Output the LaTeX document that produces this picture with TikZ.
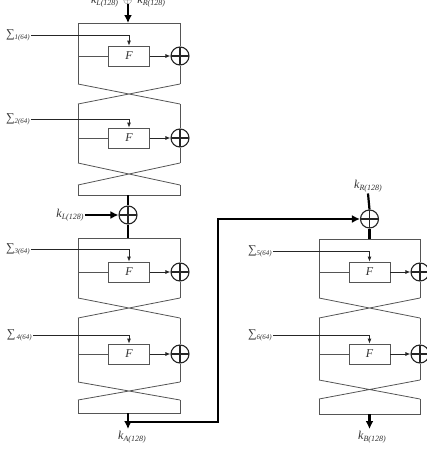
\documentclass[tikz,border=0pt]{standalone}
\usepackage{fontspec}
\setmainfont{Liberation Serif}
\usetikzlibrary{arrows.meta}
\definecolor{lc}{RGB}{85,85,85}
\definecolor{tc}{RGB}{50,50,50}
\newcommand{\sig}[1]{{\fontsize{12}{12}\selectfont ∑}\raisebox{-2pt}{\fontsize{7}{7}\selectfont\itshape #1}}
\newcommand{\kl}[1]{{\fontsize{12}{12}\selectfont\itshape k}\raisebox{-2.5pt}{\fontsize{8}{8}\selectfont\itshape #1}}
% round: name, xL, xR, ytop, yF, yend, ysig, label, label east x
\newcommand{\rnd}[9]{%
  \node[fbox] (#1F) at ({(#2+#3)/2}, #5) {F};
  \node[xor] (#1X) at (#3,#5) {};
  \node[siglab, anchor=east] (#1S) at (#9,#7) {#8};
  \coordinate (#1a) at (#2,#4);
  \coordinate (#1b) at (#2,#6);
  \coordinate (#1c) at (#3,#4);
  \coordinate (#1d) at (#3,#6);
  \coordinate (#1m) at (#2,#5);
  \draw[ln] (#1a) -- (#1b);
  \draw[ln] (#1c) -- (#1X.north);
  \draw[ln] (#1X.south) -- (#1d);
  \draw[ln] (#1m) -- (#1F.west);
  \draw[tarrow] (#1F.east) -- (#1X.west);
  \draw[tarrow] (#1S.east) -| (#1F.north);
}
\begin{document}
\begin{tikzpicture}[x=1pt,y=-1pt,
  ln/.style={draw=lc, line width=0.8pt},
  tarrow/.style={draw=black!85, line width=0.8pt, -{Latex[length=5pt,width=4pt]}},
  boldline/.style={draw=black, line width=2.2pt},
  boldarrow/.style={boldline, -{Latex[length=8pt,width=8pt]}},
  fbox/.style={draw=lc, line width=0.8pt, minimum width=41pt, minimum height=20pt, inner sep=0pt, text=tc, font=\itshape\fontsize{12}{12}\selectfont},
  xor/.style={circle, draw=black!85, line width=1.1pt, minimum size=18pt, inner sep=0pt, fill=white,
    path picture={\draw[black!85, line width=1.1pt] (path picture bounding box.north) -- (path picture bounding box.south)
      (path picture bounding box.west) -- (path picture bounding box.east);}},
  siglab/.style={text=tc, inner sep=1pt},
  klab/.style={text=tc, inner sep=1pt}]
\useasboundingbox (0,0) rectangle (427,459);

% ---------- left block ----------
\node[klab, anchor=base] (top) at (128,3) {\kl{L(128)}\ \ {\fontsize{12}{12}\selectfont$\oplus$}\ \ \kl{R(128)}};
\coordinate (t1) at (128,23);
\draw[boldarrow] (128,4) -- (t1);

\rnd{r1}{78}{180}{23}{56}{84}{35}{\sig{1(64)}}{31}
\draw[ln] (78,23) -- (180,23);
\rnd{r2}{78}{180}{104}{138}{163}{119}{\sig{2(64)}}{31}
\draw[ln] (r1b) -- (r2c) (r1d) -- (r2a);
\coordinate (b2l) at (78,185);
\coordinate (b2r) at (180,185);
\draw[ln] (r2b) -- (b2r) (r2d) -- (b2l);
\draw[ln] (b2l) -- (78,195) -- (180,195) -- (b2r);

\node[xor] (kLX) at (128,215) {};
\node[klab] (kL) at (70,215) {\kl{L(128)}};
\draw[boldline] (128,195) -- (kLX.north);
\draw[boldarrow] (kL.east) -- (kLX.west);

\rnd{r3}{78}{180}{238}{272}{298}{249}{\sig{3(64)}}{31}
\draw[ln] (78,238) -- (180,238);
\draw[boldline] (kLX.south) -- (128,238);
\rnd{r4}{78}{180}{318}{354}{382}{335}{\sig{\,4(64)}}{33}
\draw[ln] (r3b) -- (r4c) (r3d) -- (r4a);
\coordinate (b4l) at (78,400);
\coordinate (b4r) at (180,400);
\draw[ln] (r4b) -- (b4r) (r4d) -- (b4l);
\draw[ln] (b4l) -- (78,413) -- (180,413) -- (b4r);

\node[klab] (kA) at (132,437) {\kl{A(128)}};
\draw[boldarrow] (128,413) -- (128,429);

% ---------- right block ----------
\node[xor] (kRX) at (369.5,219) {};
\node[klab] (kR) at (368,186) {\kl{R(128)}};
\draw[boldline] (kR.south) -- (kRX.north);
\coordinate (j1) at (128,422);
\draw[boldarrow] (j1) -- (218,422) -- (218,219) -- (kRX.west);

\rnd{r5}{319}{420}{239}{272}{298}{251}{\sig{5(64)}}{273}
\draw[ln] (319,239) -- (420,239);
\draw[boldline] (kRX.south) -- (369.5,239);
\rnd{r6}{319}{420}{318}{354}{380}{335}{\sig{6(64)}}{273}
\draw[ln] (r5b) -- (r6c) (r5d) -- (r6a);
\coordinate (b6l) at (319,399);
\coordinate (b6r) at (420,399);
\draw[ln] (r6b) -- (b6r) (r6d) -- (b6l);
\draw[ln] (b6l) -- (319,414) -- (420,414) -- (b6r);

\node[klab] (kB) at (372,437) {\kl{B(128)}};
\draw[boldarrow] (369.5,414) -- (369.5,429);
\end{tikzpicture}
\end{document}
